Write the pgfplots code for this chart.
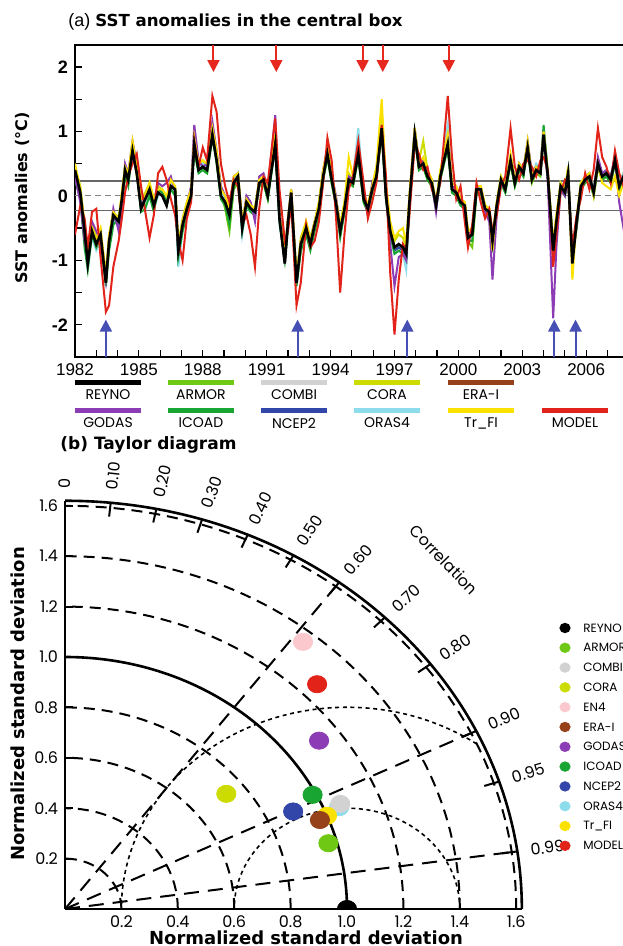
\documentclass[border=0pt]{standalone}
\usepackage{fontspec}
\setmainfont{Liberation Sans}
\newfontfamily\gothic{Poppins}
\newfontfamily\dvs{DejaVu Sans}
\usepackage{pgfplots}
\usepackage{pgfplotstable}
\pgfplotsset{compat=1.18}
\usetikzlibrary{arrows.meta}

\definecolor{reyno}{RGB}{0,0,0}
\definecolor{armor}{RGB}{110,200,20}
\definecolor{combi}{RGB}{210,210,210}
\definecolor{cora}{RGB}{205,220,0}
\definecolor{en4}{RGB}{250,200,205}
\definecolor{erai}{RGB}{150,65,25}
\definecolor{godas}{RGB}{140,60,180}
\definecolor{icoad}{RGB}{25,165,50}
\definecolor{ncep}{RGB}{50,70,170}
\definecolor{oras}{RGB}{140,220,235}
\definecolor{trfi}{RGB}{250,225,0}
\definecolor{model}{RGB}{225,35,25}
\definecolor{uparrow}{RGB}{70,80,180}
\definecolor{downarrow}{RGB}{230,40,30}

% SST anomalies (degC) in the central box
\pgfplotstableread{
t rey arm com cor era god ico ncp ora trf mod
1982.00 0.40 0.30 0.35 0.45 0.35 0.30 0.25 0.35 0.40 0.50 -0.60
1982.25 0.05 0.00 0.10 0.15 0.05 -0.10 -0.05 0.00 0.05 0.10 -0.15
1982.45 -0.55 -0.70 -0.50 -0.45 -0.60 -0.70 -0.80 -0.60 -0.50 -0.45 -0.35
1982.60 -1.05 -0.95 -1.00 -0.90 -1.00 -0.95 -1.15 -1.00 -0.95 -0.85 -0.80
1982.80 -0.55 -0.65 -0.50 -0.45 -0.55 -0.40 -0.60 -0.55 -0.65 -0.50 -0.25
1983.00 -0.75 -0.70 -0.80 -0.65 -0.75 -0.55 -0.80 -0.75 -0.85 -0.70 -0.20
1983.20 -0.60 -0.75 -0.55 -0.55 -0.65 -0.70 -0.65 -0.60 -0.70 -0.50 -0.95
1983.45 -1.35 -1.25 -1.30 -1.20 -1.35 -1.30 -1.40 -1.30 -1.25 -1.25 -1.80
1983.60 -0.70 -0.80 -0.75 -0.65 -0.75 -0.70 -0.85 -0.75 -0.80 -0.60 -1.70
1983.80 -0.30 -0.40 -0.35 -0.25 -0.30 -0.20 -0.45 -0.35 -0.40 -0.25 -1.10
1984.05 -0.40 -0.30 -0.35 -0.45 -0.40 -0.55 -0.35 -0.40 -0.45 -0.35 -0.70
1984.20 -0.05 -0.10 0.00 0.05 -0.05 -0.15 -0.10 -0.05 -0.15 0.05 -0.35
1984.35 0.40 0.30 0.35 0.45 0.40 0.50 0.30 0.40 0.35 0.45 0.05
1984.50 0.25 0.20 0.30 0.30 0.25 0.35 0.15 0.25 0.30 0.35 0.30
1984.70 0.70 0.75 0.70 0.80 0.70 0.85 0.75 0.65 0.75 0.85 0.50
1984.90 0.35 0.45 0.40 0.30 0.35 0.50 0.40 0.35 0.40 0.45 0.65
1985.10 -0.20 -0.10 -0.15 -0.05 -0.20 -0.05 -0.25 -0.15 -0.10 -0.05 0.15
1985.30 -0.05 -0.15 -0.10 0.05 -0.05 0.00 -0.20 -0.05 -0.10 0.00 -0.25
1985.50 0.10 0.05 0.15 0.20 0.10 0.15 0.00 0.10 0.15 0.20 -0.65
1985.70 -0.15 -0.20 -0.10 -0.05 -0.15 -0.10 -0.25 -0.15 -0.20 -0.05 -0.30
1985.90 0.05 0.10 0.00 0.15 0.05 0.20 0.10 0.05 0.00 0.10 0.35
1986.10 0.00 0.05 0.10 0.10 0.00 0.15 0.05 0.00 0.05 0.10 0.45
1986.30 -0.15 -0.10 -0.05 -0.05 -0.15 0.20 -0.10 -0.15 -0.10 0.00 0.25
1986.50 0.15 0.10 0.20 0.20 0.15 0.30 0.10 0.15 0.20 0.25 -0.05
1986.70 0.10 0.05 0.10 0.15 0.10 0.05 0.00 0.10 0.05 0.15 -0.30
1986.85 -0.85 -0.80 -0.90 -0.75 -0.85 -0.90 -0.95 -0.85 -1.10 -0.75 -0.70
1987.05 -0.45 -0.40 -0.50 -0.35 -0.45 -0.40 -0.55 -0.45 -0.55 -0.40 -1.00
1987.25 -0.20 -0.25 -0.15 -0.10 -0.20 -0.15 -0.30 -0.20 -0.25 -0.10 -0.35
1987.45 0.00 0.05 0.05 0.10 0.00 0.15 -0.05 0.00 0.05 0.10 -0.10
1987.60 0.80 0.75 0.85 0.85 0.80 1.10 0.70 0.80 0.90 0.90 0.85
1987.80 0.40 0.45 0.40 0.50 0.40 0.55 0.35 0.40 0.45 0.50 0.45
1988.00 0.45 0.40 0.50 0.55 0.45 0.45 0.40 0.45 0.50 0.55 0.75
1988.20 0.40 0.35 0.45 0.45 0.40 0.50 0.35 0.40 0.45 0.50 0.55
1988.45 0.95 0.90 1.00 1.05 0.95 1.15 0.90 0.95 1.05 1.05 1.55
1988.65 0.55 0.60 0.60 0.65 0.55 0.70 0.50 0.55 0.65 0.70 1.30
1988.85 0.00 0.05 0.05 0.10 0.00 0.15 -0.05 0.00 0.05 0.10 0.50
1989.05 -0.10 -0.20 -0.05 -0.05 -0.10 0.00 -0.15 -0.10 -0.05 0.00 0.15
1989.25 -0.30 -0.55 -0.25 -0.20 -0.30 -0.25 -0.45 -0.30 -0.35 -0.20 -0.10
1989.45 0.20 0.10 0.25 0.25 0.20 0.30 0.15 0.20 0.25 0.30 0.25
1989.65 0.30 0.20 0.30 0.35 0.30 0.35 0.25 0.30 0.35 0.35 0.15
1989.85 -0.50 -0.45 -0.55 -0.40 -0.50 -0.45 -0.55 -0.50 -0.60 -0.40 -0.45
1990.05 -0.10 -0.15 -0.05 -0.05 -0.10 0.00 -0.15 -0.10 -0.15 -0.05 -0.30
1990.25 -0.20 -0.25 -0.15 -0.15 -0.20 -0.10 -0.25 -0.20 -0.25 -0.15 -0.60
1990.45 -0.25 -0.30 -0.20 -0.20 -0.25 -0.40 -0.30 -0.25 -0.30 -0.20 -1.10
1990.65 0.20 0.15 0.25 0.25 0.20 0.30 0.15 0.20 0.25 0.25 -0.20
1990.85 0.25 0.20 0.30 0.30 0.25 0.35 0.20 0.25 0.30 0.30 0.30
1991.05 0.00 -0.05 0.05 0.05 0.00 0.10 -0.05 0.00 0.05 0.05 0.20
1991.40 0.80 0.85 0.85 0.90 0.80 1.25 0.75 0.80 0.90 0.95 1.20
1991.60 -0.35 -0.30 -0.40 -0.25 -0.35 -0.25 -0.40 -0.35 -0.45 -0.30 0.10
1991.85 -1.05 -0.95 -1.00 -0.90 -1.05 -0.90 -1.00 -1.05 -0.95 -0.90 -0.70
1992.00 -0.40 -0.45 -0.40 -0.35 -0.40 -0.35 -0.50 -0.40 -0.45 -0.35 -0.55
1992.15 0.05 0.00 0.05 0.10 0.05 0.10 -0.05 0.05 0.00 0.10 -0.10
1992.40 -1.35 -1.30 -1.35 -1.25 -1.35 -1.30 -1.40 -1.35 -1.40 -1.25 -1.70
1992.60 -0.75 -0.85 -0.80 -0.65 -0.75 -0.70 -0.85 -0.80 -0.85 -0.70 -1.35
1992.85 -0.50 -0.60 -0.55 -0.40 -0.50 -0.45 -0.60 -0.55 -0.60 -0.40 -0.45
1993.05 -0.75 -0.80 -0.70 -0.65 -0.75 -0.70 -0.85 -0.75 -0.80 -0.70 -0.80
1993.25 -0.45 -0.50 -0.45 -0.40 -0.45 -0.40 -0.55 -0.45 -0.50 -0.40 -0.70
1993.45 -0.20 -0.25 -0.15 -0.10 -0.20 -0.15 -0.30 -0.20 -0.25 -0.10 -0.40
1993.65 0.30 0.25 0.30 0.40 0.30 0.40 0.25 0.30 0.35 0.40 0.20
1993.85 0.65 0.60 0.70 0.70 0.65 0.75 0.60 0.65 0.70 0.75 0.90
1994.05 0.25 0.20 0.30 0.30 0.25 0.35 0.20 0.25 0.30 0.35 0.55
1994.25 -0.10 -0.15 -0.05 -0.05 -0.10 0.00 -0.15 -0.10 -0.15 -0.05 -0.30
1994.45 -0.55 -0.60 -0.50 -0.45 -0.55 -0.50 -0.65 -0.55 -0.60 -0.45 -1.50
1994.65 -0.20 -0.25 -0.15 -0.10 -0.20 -0.15 -0.25 -0.20 -0.25 -0.10 -0.60
1994.85 0.25 0.20 0.30 0.35 0.25 0.30 0.20 0.25 0.30 0.60 0.10
1995.05 0.20 0.15 0.25 0.25 0.20 0.25 0.15 0.20 0.25 0.30 0.30
1995.30 0.65 0.60 0.75 0.70 0.65 0.75 0.60 0.65 1.05 0.80 0.85
1995.55 -0.05 -0.10 0.00 0.00 -0.05 0.05 -0.10 -0.05 0.00 0.05 0.20
1995.75 -0.20 -0.25 -0.15 -0.15 -0.20 -0.30 -0.25 -0.20 -0.25 -0.15 -0.35
1995.95 0.10 0.05 0.15 0.15 0.10 0.20 0.05 0.10 0.15 0.15 -0.10
1996.15 0.30 0.25 0.35 0.40 0.30 0.35 0.25 0.30 0.35 0.45 0.20
1996.40 1.05 1.00 1.10 1.30 1.05 1.10 1.00 1.05 1.10 1.50 1.10
1996.60 0.00 -0.05 0.05 0.10 0.00 0.00 -0.05 0.00 0.05 0.20 0.30
1996.80 -0.55 -0.60 -0.50 -0.45 -0.55 -0.75 -0.60 -0.55 -0.60 -0.40 -1.20
1997.00 -0.80 -0.85 -0.80 -0.70 -0.80 -1.40 -0.90 -0.85 -0.90 -0.65 -2.15
1997.20 -0.75 -0.80 -0.75 -0.60 -0.75 -0.95 -0.85 -0.80 -0.85 -0.55 -1.30
1997.40 -0.80 -0.85 -0.80 -0.65 -0.80 -0.90 -0.90 -0.85 -0.90 -0.50 -0.75
1997.55 -0.90 -0.95 -0.90 -0.80 -0.90 -1.00 -1.00 -0.95 -1.15 -0.75 -0.85
1997.70 -0.10 -0.15 -0.05 0.00 -0.10 -0.05 -0.20 -0.10 -0.15 0.00 -0.30
1997.95 0.95 0.90 1.00 1.00 0.95 1.05 0.90 0.95 1.00 1.05 0.80
1998.15 0.45 0.40 0.50 0.55 0.45 0.50 0.40 0.45 0.55 0.50 0.65
1998.35 0.50 0.45 0.55 0.85 0.50 0.55 0.45 0.50 0.55 0.60 0.40
1998.55 0.30 0.25 0.35 0.40 0.30 0.35 0.25 0.30 0.35 0.40 0.45
1998.75 0.20 0.15 0.25 0.25 0.20 0.20 0.15 0.20 0.25 0.25 0.10
1998.95 -0.15 -0.20 -0.10 -0.10 -0.15 -0.25 -0.20 -0.15 -0.20 -0.10 -0.05
1999.15 0.30 0.25 0.35 0.35 0.30 0.35 0.25 0.30 0.35 0.40 0.20
1999.50 0.80 0.75 0.85 0.90 0.80 0.90 0.75 0.80 1.10 0.95 1.55
1999.70 0.10 0.05 0.15 0.15 0.10 0.15 0.05 0.10 0.15 0.20 0.60
1999.90 0.05 0.00 0.10 0.10 0.05 0.10 0.00 0.05 0.10 0.15 -0.05
2000.10 -0.10 -0.15 -0.05 -0.05 -0.10 -0.05 -0.15 -0.10 -0.15 -0.05 0.15
2000.30 -0.15 -0.20 -0.10 -0.10 -0.15 -0.20 -0.20 -0.15 -0.20 -0.10 -0.40
2000.45 -0.65 -0.70 -0.60 -0.55 -0.65 -0.60 -0.70 -0.65 -0.70 -0.55 -0.80
2000.65 -0.60 -0.80 -0.55 -0.50 -0.60 -0.55 -0.70 -0.60 -0.65 -0.50 -0.45
2000.85 0.10 0.05 0.15 0.15 0.10 0.15 0.05 0.10 0.15 0.15 0.20
2001.05 0.10 0.05 0.10 0.15 0.10 0.15 0.05 0.10 0.10 0.15 -0.10
2001.25 -0.20 -0.25 -0.15 -0.15 -0.20 -0.25 -0.25 -0.20 -0.25 -0.15 -0.35
2001.45 -0.25 -0.30 -0.20 -0.20 -0.25 -0.40 -0.30 -0.25 -0.30 -0.20 -0.20
2001.60 -0.70 -0.75 -0.65 -0.60 -0.70 -1.30 -0.75 -0.70 -0.75 -0.85 -0.55
2001.80 -0.15 -0.20 -0.10 -0.10 -0.15 -0.30 -0.20 -0.15 -0.20 -0.10 -0.30
2002.00 0.25 0.20 0.30 0.30 0.25 0.20 0.20 0.25 0.30 0.30 0.15
2002.20 0.10 0.05 0.15 0.15 0.10 0.10 0.05 0.10 0.15 0.15 0.30
2002.45 0.55 0.50 0.60 0.60 0.55 0.60 0.50 0.55 0.60 0.65 1.05
2002.65 0.20 0.15 0.25 0.25 0.20 0.25 0.15 0.20 0.25 0.25 0.45
2002.85 0.45 0.40 0.50 0.50 0.45 0.50 0.40 0.45 0.50 0.50 0.25
2003.05 0.35 0.30 0.40 0.40 0.35 0.40 0.30 0.35 0.40 0.40 0.50
2003.25 0.75 0.70 0.80 0.80 0.75 0.85 0.80 0.75 0.80 0.85 0.55
2003.45 0.25 0.20 0.30 0.30 0.25 0.35 0.25 0.25 0.30 0.30 0.45
2003.65 0.40 0.35 0.45 0.45 0.40 0.45 0.40 0.40 0.50 0.45 0.30
2003.85 0.35 0.30 0.40 0.40 0.35 0.45 0.40 0.35 0.40 0.40 0.55
2004.00 0.95 0.90 0.95 1.00 0.95 1.00 1.10 0.95 1.00 1.00 0.60
2004.20 0.30 0.25 0.30 0.35 0.30 0.20 0.35 0.30 0.35 0.35 0.40
2004.45 -0.85 -0.80 -0.85 -0.75 -0.85 -1.90 -0.80 -0.85 -0.90 -0.75 -1.10
2004.60 -0.40 -0.35 -0.45 -0.30 -0.40 -0.80 -0.40 -0.40 -0.45 -0.30 -0.60
2004.80 0.15 0.10 0.20 0.20 0.15 0.10 0.10 0.15 0.20 0.20 0.05
2005.00 0.05 0.00 0.10 0.10 0.05 0.00 0.00 0.05 0.10 0.10 0.25
2005.15 0.35 0.30 0.40 0.40 0.35 0.30 0.30 0.35 0.40 0.45 0.20
2005.35 -1.05 -0.95 -1.00 -1.00 -1.05 -1.00 -0.95 -1.05 -1.00 -1.30 -0.80
2005.55 -0.40 -0.50 -0.40 -0.35 -0.40 -0.45 -0.50 -0.40 -0.45 -0.35 -0.30
2005.75 0.15 0.10 0.20 0.20 0.15 0.10 0.10 0.15 0.20 0.20 -0.05
2005.95 0.25 0.20 0.30 0.30 0.25 0.30 0.20 0.25 0.30 0.30 0.35
2006.15 0.30 0.25 0.35 0.35 0.30 0.35 0.25 0.30 0.35 0.35 0.10
2006.35 0.05 0.00 0.10 0.10 0.05 0.05 0.00 0.05 0.10 0.00 0.40
2006.55 0.50 0.45 0.55 0.55 0.50 0.60 0.45 0.50 0.55 0.50 1.05
2006.75 0.30 0.25 0.35 0.35 0.30 0.35 0.25 0.30 0.35 0.20 0.60
2006.95 0.35 0.30 0.40 0.40 0.35 0.40 0.30 0.35 0.40 0.15 0.45
2007.15 0.25 0.20 0.30 0.30 0.25 0.30 0.20 0.25 0.30 0.10 0.20
2007.35 0.55 0.50 0.60 0.60 0.55 0.60 0.50 0.55 0.60 0.30 0.70
2007.55 0.15 0.10 0.20 0.20 0.15 -0.10 0.10 0.15 0.20 0.00 0.35
2007.75 0.30 0.25 0.35 0.35 0.30 -0.50 0.25 0.30 0.35 0.20 0.15
2008.00 0.20 0.15 0.25 0.25 0.20 0.10 0.15 0.20 0.25 0.15 0.30
}\sst

\begin{document}
\begin{tikzpicture}

% ---------------- (a) time series ----------------
\begin{axis}[
  at={(37.5pt,294.5pt)}, anchor=south west,
  scale only axis, width=276.9pt, height=156pt,
  xmin=1982, xmax=2008, ymin=-2.5, ymax=2.34,
  axis line style={line width=0.8pt},
  xtick={1982,1985,...,2006},
  xticklabels={1982,1985,1988,1991,1994,1997,2000,2003,2006},
  minor xtick={1983,1984,...,2007},
  ytick={-2,-1,0,1,2}, yticklabels={-2,-1,0,1,2},
  minor ytick={-1.5,-0.5,0.5,1.5},
  tick pos=left, tick align=inside,
  major tick length=3.5pt, minor tick length=3.5pt,
  tick style={black,line width=0.6pt},
  xticklabel style={font=\fontsize{8.5}{9}\selectfont},
  yticklabel style={font=\bfseries\fontsize{9}{9}\selectfont},
]
\draw[gray!80!black, line width=0.7pt] (axis cs:1982,0.23) -- (axis cs:2008,0.23);
\draw[gray!80!black, line width=0.7pt] (axis cs:1982,-0.23) -- (axis cs:2008,-0.23);
\draw[gray, line width=0.6pt, dash pattern=on 3pt off 2pt] (axis cs:1982,0) -- (axis cs:2008,0);

\addplot[armor, line width=1pt] table[x=t,y=arm]{\sst};
\addplot[combi, line width=1pt] table[x=t,y=com]{\sst};
\addplot[cora, line width=1pt] table[x=t,y=cor]{\sst};
\addplot[erai, line width=1pt] table[x=t,y=era]{\sst};
\addplot[oras, line width=1pt] table[x=t,y=ora]{\sst};
\addplot[ncep, line width=1pt] table[x=t,y=ncp]{\sst};
\addplot[icoad, line width=1pt] table[x=t,y=ico]{\sst};
\addplot[godas, line width=1pt] table[x=t,y=god]{\sst};
\addplot[trfi, line width=1pt] table[x=t,y=trf]{\sst};
\addplot[model, line width=1pt] table[x=t,y=mod]{\sst};
\addplot[reyno, line width=1.3pt] table[x=t,y=rey]{\sst};

% warm (red) and cold (blue) events
\foreach \yr in {1988.5,1991.45,1995.5,1996.45,1999.55}{
  \edef\tmp{\noexpand\draw[downarrow, line width=1pt, -{Triangle[width=6pt,length=6pt]}]
    (axis cs:\yr,2.34) -- (axis cs:\yr,1.92);}\tmp}
\foreach \yr in {1983.45,1992.45,1997.6,2004.5,2005.5}{
  \edef\tmp{\noexpand\draw[uparrow, line width=1pt, -{Triangle[width=6pt,length=6pt]}]
    (axis cs:\yr,-2.5) -- (axis cs:\yr,-1.92);}\tmp}
\end{axis}

\node[anchor=west, inner sep=0] at (34pt,462pt)
  {\fontsize{9}{9}\selectfont (a) {\dvs\bfseries\fontsize{8.3}{9}\selectfont SST anomalies in the central box}};
\node[rotate=90, inner sep=0] at (11pt,374pt)
  {\dvs\bfseries\fontsize{8}{8}\selectfont SST anomalies (°C)};

% legend of (a)
\foreach \x/\col/\nm in {37.5/reyno/REYNO,84/armor/ARMOR,130.5/combi/COMBI,177/cora/CORA,224/erai/ERA-I}{
  \draw[\col, line width=2.5pt] (\x pt,281.5pt) -- ++(33pt,0);
  \node[font=\gothic\fontsize{7}{7}\selectfont, inner sep=0] at ({\x pt+16.5pt},275.5pt) {\nm};
}
\foreach \x/\col/\nm in {37.5/godas/GODAS,84/icoad/ICOAD,130.5/ncep/NCEP2,177/oras/ORAS4,224/trfi/Tr\_FI,271/model/MODEL}{
  \draw[\col, line width=2.5pt] (\x pt,267.5pt) -- ++(33pt,0);
  \node[font=\gothic\fontsize{7}{7}\selectfont, inner sep=0] at ({\x pt+16.5pt},261.5pt) {\nm};
}

% ---------------- (b) Taylor diagram ----------------
\begin{scope}[shift={(32.5pt,18.5pt)}, x=141pt, y=126pt]
  \foreach \r in {0.2,0.4,0.6,0.8,1.2,1.4,1.6}
    \draw[line width=1pt, dash pattern=on 5.5pt off 3.5pt] (\r,0) arc[start angle=0,end angle=90,radius=\r];
  \draw[line width=0.8pt, dash pattern=on 2pt off 1.8pt] (1.4,0) arc[start angle=0,end angle=180,radius=0.4];
  \draw[line width=0.8pt, dash pattern=on 2pt off 1.8pt] (1.46,0.655) arc[start angle=54.9,end angle=180,radius=0.8];
  \draw[line width=1pt, dash pattern=on 7.5pt off 4.5pt] (0,0) -- (0.96,1.28);
  \draw[line width=1pt, dash pattern=on 7.5pt off 4.5pt] (0,0) -- (1.44,0.698);
  \draw[line width=1pt, dash pattern=on 7.5pt off 4.5pt] (0,0) -- (1.584,0.226);
  \draw[line width=1.3pt] (1,0) arc[start angle=0,end angle=90,radius=1];
  \draw[line width=1.3pt] (1.62,0) arc[start angle=0,end angle=90,radius=1.62];
  \foreach \cc/\ss in {0.1/0.995,0.2/0.98,0.3/0.954,0.4/0.9165,0.5/0.866,0.6/0.8,0.7/0.714,0.8/0.6,0.9/0.436,0.95/0.312,0.99/0.141}
    \draw[line width=1pt] ({1.62*\cc},{1.62*\ss}) -- ({1.565*\cc},{1.565*\ss});
  \begin{scope}[every node/.style={anchor=west, inner sep=1pt, font=\gothic\fontsize{8}{8}\selectfont}]
    \node[rotate=90]   at (0,1.66)       {0};
    \node[rotate=83.6] at (0.166,1.652)  {0.10};
    \node[rotate=77.1] at (0.332,1.626)  {0.20};
    \node[rotate=70.6] at (0.498,1.583)  {0.30};
    \node[rotate=64.0] at (0.664,1.521)  {0.40};
    \node[rotate=57.1] at (0.83,1.438)   {0.50};
    \node[rotate=50.0] at (0.996,1.328)  {0.60};
    \node[rotate=42.4] at (1.162,1.185)  {0.70};
    \node[rotate=33.8] at (1.328,0.996)  {0.80};
    \node[rotate=23.4] at (1.494,0.724)  {0.90};
    \node[rotate=16.4] at (1.577,0.518)  {0.95};
    \node[rotate=7.3]  at (1.643,0.234)  {0.99};
    \node[anchor=center, rotate=-46] at (1.345,1.385) {Correlation};
  \end{scope}
\end{scope}

\begin{axis}[
  at={(32.5pt,18.5pt)}, anchor=south west,
  scale only axis, width=228.42pt, height=204.12pt,
  xmin=0, xmax=1.62, ymin=0, ymax=1.62,
  axis lines=left, axis line style={-, line width=1.2pt},
  xtick={0.2,0.4,0.6,0.8,1.0,1.2,1.4,1.6},
  xticklabels={0.2,0.4,0.6,0.8,1.0,1.2,1.4,1.6},
  ytick={0.2,0.4,0.6,0.8,1.0,1.2,1.4,1.6},
  yticklabels={0.2,0.4,0.6,0.8,1.0,1.2,1.4,1.6},
  tick align=inside, major tick length=4pt,
  x tick style={draw=none}, y tick style={black, line width=1pt},
  ticklabel style={font=\gothic\fontsize{8}{8}\selectfont},
  clip marker paths=true,
]
\addplot[only marks, mark=*, mark size=4.3pt, reyno, mark options={xscale=1.12}] coordinates {(1.0,0.0)};
\addplot[only marks, mark=*, mark size=4.3pt, armor, mark options={xscale=1.12}] coordinates {(0.934,0.261)};
\addplot[only marks, mark=*, mark size=4.3pt, oras, mark options={xscale=1.12}] coordinates {(0.972,0.404)};
\addplot[only marks, mark=*, mark size=4.3pt, combi, mark options={xscale=1.12}] coordinates {(0.976,0.417)};
\addplot[only marks, mark=*, mark size=4.3pt, cora, mark options={xscale=1.12}] coordinates {(0.572,0.457)};
\addplot[only marks, mark=*, mark size=4.3pt, en4, mark options={xscale=1.12}] coordinates {(0.844,1.06)};
\addplot[only marks, mark=*, mark size=4.3pt, trfi, mark options={xscale=1.12}] coordinates {(0.929,0.370)};
\addplot[only marks, mark=*, mark size=4.3pt, erai, mark options={xscale=1.12}] coordinates {(0.904,0.353)};
\addplot[only marks, mark=*, mark size=4.3pt, godas, mark options={xscale=1.12}] coordinates {(0.901,0.668)};
\addplot[only marks, mark=*, mark size=4.3pt, icoad, mark options={xscale=1.12}] coordinates {(0.878,0.453)};
\addplot[only marks, mark=*, mark size=4.3pt, ncep, mark options={xscale=1.12}] coordinates {(0.809,0.387)};
\addplot[only marks, mark=*, mark size=4.3pt, model, mark options={xscale=1.12}] coordinates {(0.894,0.892)};
\end{axis}

\node[anchor=west, inner sep=0] at (30pt,250.5pt)
  {\dvs\bfseries\fontsize{8.5}{9}\selectfont (b)\hspace{0.35em}Taylor diagram};
\node[rotate=90, inner sep=0] at (9pt,121pt)
  {\dvs\bfseries\fontsize{9}{9}\selectfont Normalized standard deviation};
\node[inner sep=0] at (153pt,4pt)
  {\dvs\bfseries\fontsize{9}{9}\selectfont Normalized standard deviation};

% legend of (b)
\foreach \i/\col/\nm in {0/reyno/REYNO,1/armor/ARMOR,2/combi/COMBI,3/cora/CORA,4/en4/EN4,5/erai/ERA-I,6/godas/GODAS,7/icoad/ICOAD,8/ncep/NCEP2,9/oras/ORAS4,10/trfi/Tr\_FI,11/model/MODEL}{
  \fill[\col] (282.5pt,{159pt-9.9pt*\i}) ellipse[x radius=2.8pt, y radius=2.6pt];
  \node[anchor=west, inner sep=0, font=\gothic\fontsize{6}{6}\selectfont] at (291.5pt,{159pt-9.9pt*\i}) {\nm};
}

\pgfresetboundingbox
\path[use as bounding box] (0,0) rectangle (311pt,473pt);
\end{tikzpicture}
\end{document}
